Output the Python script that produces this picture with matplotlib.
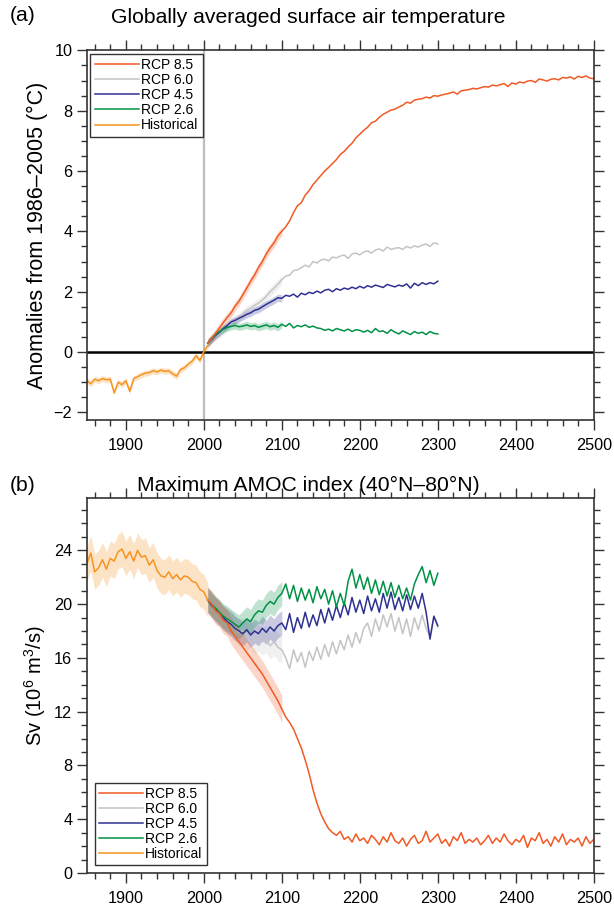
import numpy as np
import matplotlib
matplotlib.use('Agg')
import matplotlib.pyplot as plt
from matplotlib.ticker import MultipleLocator

plt.rcParams['font.family'] = ['Liberation Sans', 'DejaVu Sans']
plt.rcParams['mathtext.fontset'] = 'custom'
plt.rcParams['mathtext.rm'] = 'Liberation Sans'
plt.rcParams['mathtext.it'] = 'Liberation Sans:italic'

# ---------------- data (5-year steps) ----------------
years_hist = list(range(1850, 2006, 5))
years_rcp = list(range(2005, 2301, 5))
years_ext = list(range(2005, 2501, 5))

# (a) surface air temperature anomaly (degC)
hist_a = [-0.95, -1.05, -0.90, -0.95, -0.88, -0.92, -0.90, -1.35, -1.00, -1.08,
          -0.95, -1.30, -0.88, -0.82, -0.75, -0.70, -0.68, -0.62, -0.66, -0.60,
          -0.64, -0.62, -0.72, -0.80, -0.58, -0.52, -0.40, -0.30, -0.12, -0.28,
          0.02, 0.22]
rcp85_a = [0.30, 0.45, 0.62, 0.80, 0.98, 1.15, 1.30, 1.52, 1.68, 1.90,
           2.12, 2.35, 2.55, 2.80, 3.00, 3.25, 3.45, 3.62, 3.85, 4.00,
           4.15, 4.35, 4.62, 4.85, 4.95, 5.20, 5.35, 5.55, 5.70, 5.85,
           6.00, 6.12, 6.25, 6.38, 6.55, 6.65, 6.80, 6.92, 7.10, 7.22,
           7.35, 7.45, 7.60, 7.65, 7.78, 7.88, 7.95, 8.02, 8.05, 8.12,
           8.18, 8.28, 8.25, 8.35, 8.38, 8.40, 8.45, 8.42, 8.50, 8.48,
           8.52, 8.55, 8.58, 8.62, 8.55, 8.66, 8.68, 8.70, 8.74, 8.72,
           8.76, 8.80, 8.78, 8.85, 8.82, 8.86, 8.90, 8.80, 8.92, 8.88,
           8.95, 8.92, 8.98, 9.00, 8.94, 9.05, 9.02, 8.98, 9.04, 9.06,
           9.02, 9.10, 9.08, 9.12, 9.05, 9.14, 9.10, 9.15, 9.08, 9.06]
rcp60_a = [0.30, 0.42, 0.52, 0.60, 0.72, 0.85, 0.95, 1.05, 1.15, 1.28,
           1.38, 1.45, 1.55, 1.62, 1.72, 1.85, 2.00, 2.12, 2.25, 2.40,
           2.52, 2.55, 2.70, 2.72, 2.80, 2.88, 2.82, 3.00, 2.95, 3.05,
           3.08, 3.02, 3.15, 3.12, 3.18, 3.22, 3.10, 3.25, 3.28, 3.22,
           3.32, 3.35, 3.28, 3.38, 3.42, 3.35, 3.48, 3.40, 3.44, 3.46,
           3.40, 3.50, 3.45, 3.52, 3.48, 3.55, 3.58, 3.50, 3.62, 3.58]
rcp45_a = [0.30, 0.42, 0.55, 0.65, 0.78, 0.88, 1.00, 1.05, 1.12, 1.18,
           1.25, 1.30, 1.38, 1.42, 1.50, 1.58, 1.65, 1.72, 1.80, 1.78,
           1.88, 1.85, 1.92, 1.82, 1.95, 1.90, 1.98, 1.94, 2.02, 1.96,
           2.05, 2.08, 2.00, 2.10, 2.05, 2.12, 2.08, 2.15, 2.10, 2.18,
           2.12, 2.20, 2.15, 2.22, 2.18, 2.14, 2.24, 2.20, 2.16, 2.22,
           2.18, 2.26, 2.12, 2.28, 2.20, 2.30, 2.24, 2.30, 2.26, 2.35]
rcp26_a = [0.30, 0.45, 0.58, 0.68, 0.75, 0.82, 0.85, 0.88, 0.84, 0.86,
           0.90, 0.85, 0.88, 0.82, 0.86, 0.90, 0.84, 0.88, 0.82, 0.92,
           0.85, 0.95, 0.80, 0.88, 0.84, 0.90, 0.82, 0.86, 0.80, 0.78,
           0.72, 0.76, 0.70, 0.78, 0.74, 0.70, 0.76, 0.68, 0.74, 0.72,
           0.66, 0.72, 0.64, 0.78, 0.68, 0.70, 0.62, 0.74, 0.66, 0.60,
           0.70, 0.64, 0.58, 0.68, 0.62, 0.66, 0.58, 0.68, 0.62, 0.60]

# (b) maximum AMOC index (Sv)
hist_b = [23.0, 23.8, 22.4, 22.7, 23.3, 22.6, 23.4, 23.2, 23.9, 24.1,
          23.4, 23.9, 23.2, 24.0, 23.5, 23.6, 22.9, 23.3, 22.5, 22.1,
          22.0, 22.4, 21.9, 22.2, 21.8, 22.1, 22.0, 21.7, 21.6, 21.1,
          20.9, 20.3]
rcp85_b = [20.3, 20.0, 19.5, 19.3, 18.8, 18.6, 18.0, 17.6, 17.2, 16.8,
           16.4, 16.0, 15.6, 15.2, 14.8, 14.3, 13.8, 13.3, 12.8, 12.2,
           11.6, 11.2, 10.7, 10.0, 9.3, 8.4, 7.4, 6.2, 5.2, 4.4,
           3.8, 3.3, 3.0, 2.8, 3.1, 2.5, 2.7, 2.3, 2.9, 2.4,
           2.6, 2.2, 2.8, 2.5, 2.1, 2.7, 2.3, 3.0, 2.4, 2.2,
           2.6, 2.0, 2.5, 2.8, 2.2, 2.4, 3.1, 2.3, 2.6, 2.9,
           2.2, 2.5, 2.0, 2.7, 2.4, 3.0, 2.2, 2.5, 2.3, 2.6,
           2.1, 2.4, 2.8, 2.2, 2.6, 2.3, 2.9, 2.4, 2.1, 2.5,
           2.3, 2.8, 1.9, 2.6, 2.4, 3.0, 2.2, 2.5, 2.0, 2.7,
           2.3, 2.9, 2.1, 2.5, 2.3, 2.6, 2.0, 2.7, 2.2, 2.5]
rcp60_b = [20.3, 20.0, 19.6, 19.4, 19.0, 18.9, 18.6, 18.2, 17.9, 18.0,
           17.6, 17.8, 17.3, 17.5, 17.2, 17.4, 16.9, 17.2, 16.8, 16.6,
           16.0, 15.2, 16.6, 15.7, 16.4, 15.3, 16.5, 15.8, 16.8, 15.9,
           17.0, 16.1, 17.2, 16.3, 17.3, 16.6, 17.7, 16.8, 17.9, 17.1,
           18.2, 18.6, 17.6, 18.9, 18.0, 19.2, 18.3, 19.3, 18.0, 19.0,
           17.8, 18.9, 17.6, 19.0, 18.1, 19.2, 18.2, 17.6, 19.1, 18.3]
rcp45_b = [20.3, 19.9, 19.6, 19.3, 19.0, 18.7, 18.5, 18.2, 18.0, 17.8,
           18.1, 17.7, 18.0, 17.8, 18.2, 17.9, 18.3, 18.0, 18.4, 18.6,
           18.1, 19.3, 17.9, 19.0, 18.2, 19.4, 18.3, 19.2, 18.4, 19.6,
           18.6, 19.7, 18.8, 19.9, 19.0, 20.1, 19.2, 20.5, 19.4, 20.3,
           19.3, 20.6, 19.5, 20.4, 19.4, 20.8, 19.7, 20.9, 19.6, 20.5,
           19.5, 20.7, 19.6, 20.6, 19.7, 20.8, 19.4, 17.4, 19.1, 18.4]
rcp26_b = [20.3, 20.0, 19.7, 19.4, 19.1, 18.9, 18.7, 18.5, 18.3, 18.6,
           18.9, 18.7, 19.2, 19.5, 19.4, 19.9, 20.2, 20.0, 20.5, 20.8,
           21.5, 20.4, 21.4, 20.2, 21.2, 20.3, 21.1, 20.1, 21.3, 20.4,
           21.1, 20.0, 21.0, 19.8, 20.8, 19.9, 21.7, 22.6, 21.2, 22.2,
           21.1, 22.0, 20.8, 21.8, 20.7, 21.7, 20.6, 21.6, 20.5, 21.4,
           20.4, 21.2, 20.3, 21.5, 22.2, 22.8, 21.6, 22.5, 21.4, 22.3]

# ensemble half-range (shading), historical period and RCPs up to 2100
spread_end = 2100
spread_a = [0.15, 0.15, 0.12, 0.12, 0.10]   # 8.5, 6.0, 4.5, 2.6, hist
spread_b = [1.0, 1.0, 0.9, 0.9, 1.3]

labels = ['RCP 8.5', 'RCP 6.0', 'RCP 4.5', 'RCP 2.6', 'Historical']
colors = ['#F15A24', '#C4C4C4', '#2E3192', '#009245', '#F7931E']

# ---------------- figure ----------------
fig = plt.figure(figsize=(6.14, 9.07), dpi=100)
ax_a = fig.add_axes([0.1415, 0.537, 0.8255, 0.4075])
ax_b = fig.add_axes([0.1415, 0.0375, 0.8255, 0.4135])


def style_axes(ax):
    ax.set_xlim(1850, 2500)
    ax.xaxis.set_major_locator(MultipleLocator(100))
    ax.xaxis.set_minor_locator(MultipleLocator(20))
    ax.tick_params(which='both', direction='out', top=True, right=True,
                   labelsize=11.7, color='#333333', width=1.0)
    ax.tick_params(which='major', length=7)
    ax.tick_params(which='minor', length=4)
    ax.tick_params(axis='x', pad=6)
    for s in ax.spines.values():
        s.set_linewidth(1.2)
        s.set_color('#333333')


def draw_series(ax, data, spreads):
    series = [(years_ext, data[0]), (years_rcp, data[1]), (years_rcp, data[2]),
              (years_rcp, data[3]), (years_hist, data[4])]
    handles = [None] * 5
    for i in [1, 2, 3, 0, 4]:
        x, y = np.array(series[i][0]), np.array(series[i][1])
        m = x <= spread_end
        ax.fill_between(x[m], y[m] - spreads[i], y[m] + spreads[i],
                        color=colors[i], alpha=0.25, lw=0)
        handles[i], = ax.plot(x, y, color=colors[i], lw=1.1, label=labels[i])
    return handles


leg_kw = dict(fontsize=10, frameon=True, fancybox=False, edgecolor='#333333',
              framealpha=1, handlelength=3.2, handletextpad=0.15,
              labelspacing=0.08, borderpad=0.3)

# (a)
style_axes(ax_a)
ax_a.set_ylim(-2.25, 10)
ax_a.yaxis.set_major_locator(MultipleLocator(2))
ax_a.yaxis.set_minor_locator(MultipleLocator(0.5))
ax_a.axvline(2000, color='#BDBDBD', lw=1.6, zorder=1)
ax_a.axhline(0, color='black', lw=1.8, zorder=1)
h = draw_series(ax_a, [rcp85_a, rcp60_a, rcp45_a, rcp26_a, hist_a], spread_a)
ax_a.set_ylabel('Anomalies from 1986\u20132005 (\u00b0C)', fontsize=15.5, labelpad=4)
ax_a.legend(h, labels, loc='upper left', borderaxespad=0.25, **leg_kw)

# (b)
style_axes(ax_b)
ax_b.set_ylim(0, 27.9)
ax_b.yaxis.set_major_locator(MultipleLocator(4))
ax_b.yaxis.set_minor_locator(MultipleLocator(1))
h = draw_series(ax_b, [rcp85_b, rcp60_b, rcp45_b, rcp26_b, hist_b], spread_b)
ax_b.set_ylabel('Sv (10$^6$ m$^3$/s)', fontsize=14.5, labelpad=4)
ax_b.legend(h, labels, loc='lower left', borderaxespad=0.55, **leg_kw)

# titles and panel letters
fig.text(0.5015, 0.981, 'Globally averaged surface air temperature',
         ha='center', va='center', fontsize=15.2)
fig.text(0.5015, 0.465, 'Maximum AMOC index (40\u00b0N\u201380\u00b0N)',
         ha='center', va='center', fontsize=15.2)
fig.text(0.016, 0.983, '(a)', ha='left', va='center', fontsize=15.2)
fig.text(0.016, 0.465, '(b)', ha='left', va='center', fontsize=15.2)

fig.savefig('out.png', dpi=100)
